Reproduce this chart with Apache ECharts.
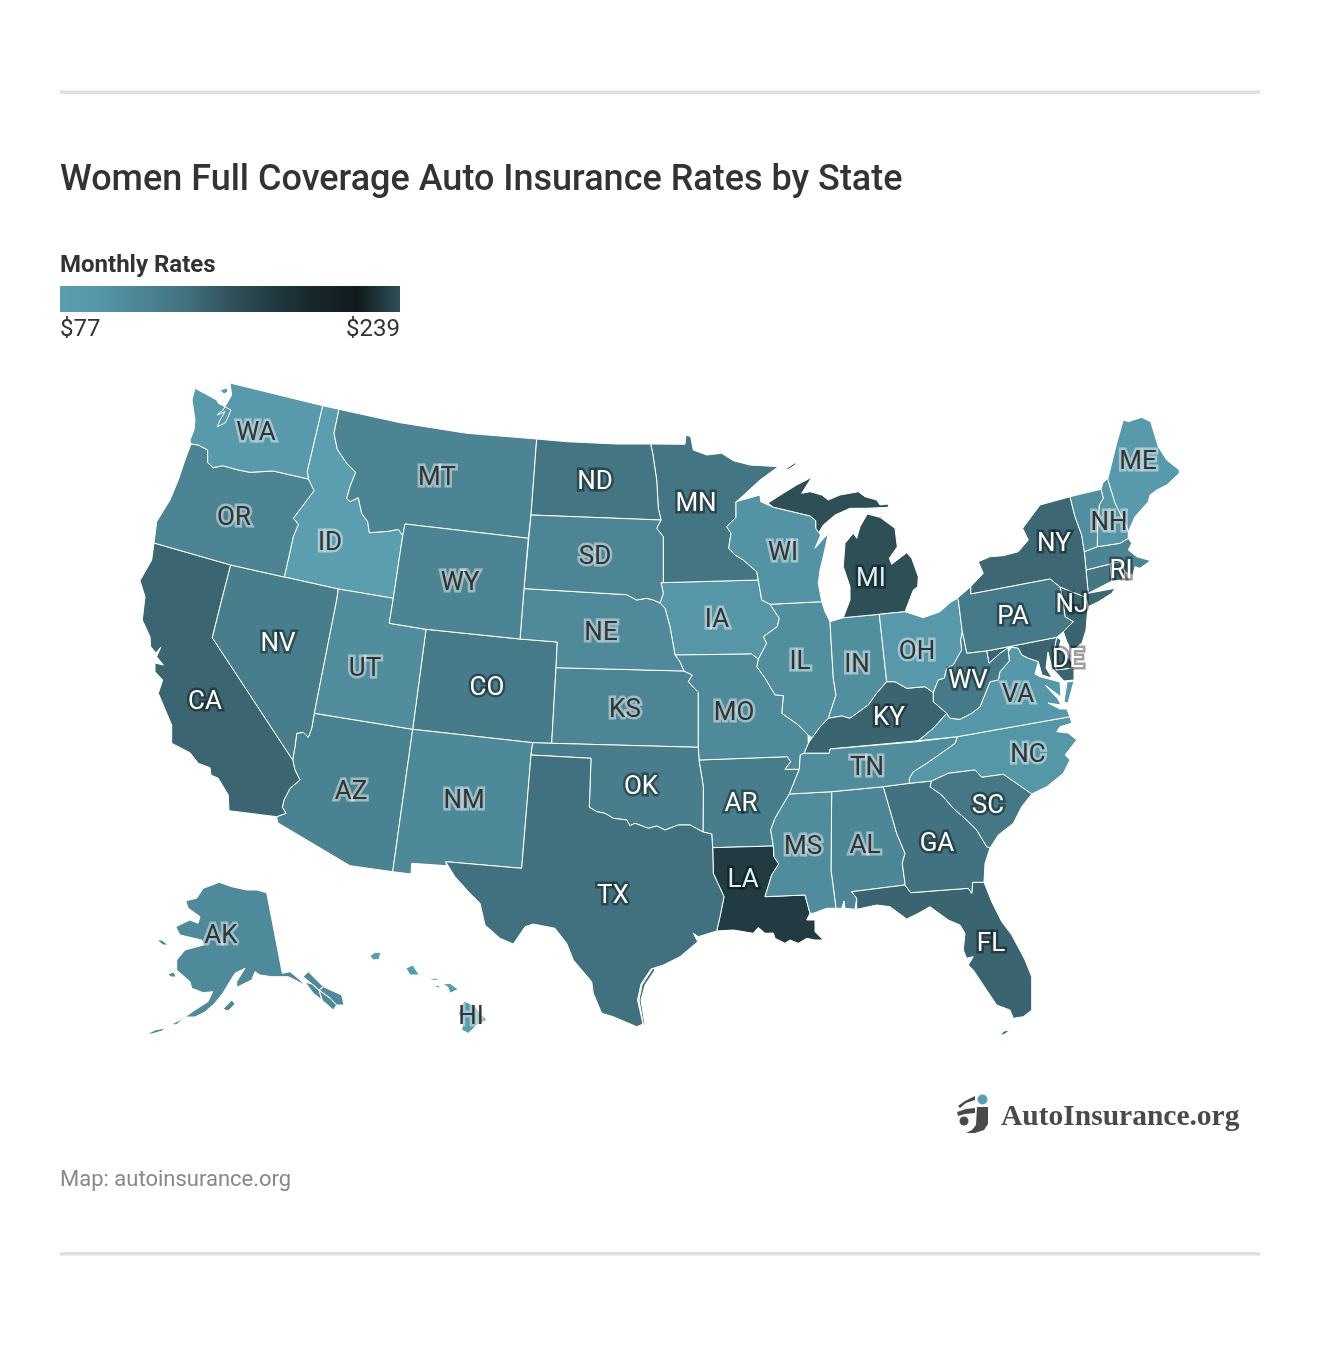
<!DOCTYPE html>
<html>
<head>
<meta charset="utf-8">
<title>Women Full Coverage Auto Insurance Rates by State</title>
<script src="https://cdn.jsdelivr.net/npm/echarts@6/dist/echarts.min.js"></script>
<style>
  html, body { margin: 0; padding: 0; background: #fff; }
  #chart-dev { width: 1320px; height: 1346px; }
</style>
</head>
<body>
<div id="chart-dev"></div>
<script>
var stateCodes = ['AK','AL','AR','AZ','CA','CO','CT','DE','FL','GA','HI','IA','ID','IL','IN','KS','KY','LA','MA','MD','ME','MI','MN','MO','MS','MT','NC','ND','NE','NH','NJ','NM','NV','NY','OH','OK','OR','PA','RI','SC','SD','TN','TX','UT','VA','VT','WA','WI','WV','WY'];
var stateRates = [110,115,125,120,145,127,132,146,146,136,82,95,78,106,106,116,146,178,117,146,86,239,133,110,108,117,96,133,111,95,146,112,125,144,88,125,117,128,142,131,116,108,137,107,92,105,85,100,128,118];
var noLabel = ['CT','MA','MD','VT'];
var rateMin = 77;
var rateMax = 239;
var rampColors = ['#5a9eb0','#5595a6','#4c8494','#41707d','#30535b','#223a41','#17272b','#101a1c','#2f4f57'];

// borders shared by two states
var arcs = {
    waId: '322.7,405.7 307.3,471 308.3,479',
    waOr: '308.3,479 273.3,471 250,472.3 238.3,470 222.7,465.7 213.3,467.7 207.7,462.7 207.7,450 198.3,445 191,444',
    idMt: '339,409.3 334,433.3 337.3,449.3 346.7,463.3 355.7,472.3 350,486.7 346.7,498.3 350,501.7 358.3,497.7 361.7,513.3 367.7,521.7 369.3,532.7 388.3,531.3 398.3,529.3 402.7,535.7',
    idOr: '284.3,577 293.3,536.7 298.3,524.3 293.3,518.3 303.3,505 314,490.7 308.3,479',
    azCa: '292.7,760 295,770 300,780 290,788.3 284,800 282.3,807.3 286,813.3 276.7,816.7',
    azNv: '314.3,713.3 311.7,728.3 308.3,737.3 303.3,732.3 296.7,733.3 295,746.7 292.7,760',
    ndMn: '650.7,444 652.7,453.3 656.7,480 658.3,508.3 661,520',
    sdMn: '661,520 656.7,528.3 663.3,536.7 663.3,582.3 661,582.7',
    iaSd: '661,582.7 663.3,593.3 660,603',
    sdNe: '660,603 653.3,600 646.7,598.3 636.7,600 626.7,594.7 524,588.6',
    iaNe: '660,603 665,608.3 670,626.7 675,655',
    neMo: '675,655 680,662 684,671',
    ksMo: '684,671 692.3,675 688.3,681.7 698.3,692.3 698.3,747.3',
    ilIa: '758.3,659.3 766.7,643.3 763.3,636.7 777.3,626.7 779.3,618.3 770,604.3',
    mnWi: '736,501.7 736,517.3 726.7,526.7 731,533.3 728.7,548.3 735,555 743.3,560 756.7,571.7 758.3,580',
    wiUp: '773.3,507.3 810,516 815.7,520.7 815.7,528.3',
    moIl: '758.3,659.3 756.7,666.7 765,678.3 775,695 783.3,695.7 781.7,713.3 798.3,725 808,735',
    ilIn: '830,621.7 833.3,678.3 836,695 828.3,718.3',
    okTx: '703,832 690,825 678.3,825 665,830 656.7,826 648.3,828.3 635,823.3 630,825.7 626.7,820 613.3,818.3 605,813.3 596.7,811.7 589.3,807.3',
    laTx: '711.7,834 712.7,847.7 713.3,873.3 724,896.7 720,916.7 716.7,931',
    tnNc: '909.3,783.3 909.3,778.3 913.3,771.7 926.7,763.3 943.3,751.7 955,743.3 957.3,736.7',
    arMs: '799.3,769.3 789.3,794 775,818.3 770.7,830 773.3,846',
    alGa: '883.3,786.7 896.7,833.3 905,853.3 902.3,863.3 905,883.3 905,885',
    gaSc: '931.7,781 930,786.7 941.7,795 953.3,808.3 966.7,820 976.7,830 986.7,846.7 990,848',
    scNc: '931.7,781 948.3,773.3 975,770 981.7,777.3 1003.3,774.3 1031.7,794',
    vtNh: '1106.7,479.3 1102.7,483.3 1101,489.3 1103.3,498.3 1099.3,505 1097.7,523.3 1097.3,546.7'
};

var outlines = {
    WA: ['230,383 @waId @waOr 190,440 194,430 195,420 192,400 195,388.3 216.7,400 218.3,403.3 231,410 226.7,420 225,423 217.3,426.7 220,420 225,411.7 217,415 223,410 226,405 231.7,395',
         '220,390 227,388 228,392 224,394'],
    OR: ['@waOr 185,460 178.3,480 170,500 156.7,521.7 154,543 230.7,565 @idOr'],
    ID: ['322.7,405.7 @idMt 393.3,598.3 338.3,589 @idOr ~waId'],
    MT: ['339,409.3 400,422.7 466.7,433.3 536.7,439 531,515 528.3,538.3 405,524 ~idMt'],
    WY: ['405,524 528.3,538.3 524,588.6 520,639 426,629.3 389.3,623.3 393.3,598.3 402.7,535.7'],
    CA: ['154,543 230.7,565 221.7,600 212.3,637.7 @azCa 229,810.7 228.3,795 218.3,778.3 211,775 210,767.7 198.3,763.3 190,752.7 171.7,743.3 171.7,725 158.3,693.3 162.7,680 155,671.7 155,663 163.3,665 156.7,656.7 160.7,647.3 156,653 150.7,646.7 150,636.7 142.3,620 145,596.7 140,580.7 151.7,560'],
    NV: ['230.7,565 284.3,577 338.3,589 336.7,600 @azNv 212.3,637.7 221.7,600'],
    UT: ['338.3,589 393.3,598.3 389.3,623.3 426,629.3 412.7,729.3 314.3,713.3 336.7,600'],
    AZ: ['@azNv @azCa 277.7,822.7 350,865.7 392.7,871.7 412.7,729.3'],
    CO: ['426,629.3 520,639 557.3,642 556,667.7 551.7,743.3 532.7,742.7 412.7,729.3'],
    NM: ['412.7,729.3 532.7,742.7 531,755 521.7,868.3 445.7,861.7 446.7,865.7 411.7,863.3 411,874 392.7,871.7'],
    ND: ['536.7,439 566.7,441.7 616.7,444 @ndMn 531,515'],
    SD: ['531,515 @sdMn @iaSd @sdNe'],
    NE: ['~sdNe @iaNe @neMo 556,667.7 557.3,642 520,639'],
    KS: ['556,667.7 @ksMo 551.7,743.3'],
    OK: ['532.7,742.7 551.7,743.3 698.3,747.3 699,760 703.3,786.7 @okTx 591,758.3 531,755'],
    TX: ['531,755 591,758.3 ~okTx @laTx 698.3,936.7 693.3,933.3 697.7,941.7 680,956.7 663.3,965 651,969 641,984 637.5,1000 643,1024 636.7,1026.7 613.3,1016.7 601.7,1013.3 593.3,993.3 591.7,981.7 573.3,960 566.7,943.3 555,928.3 533.3,924 525,926.7 513.3,944 500,938.3 485,925 480,903.3 470,893.3 455,876.7 445.7,861.7 521.7,868.3',
         '653,968 655,970 645,985 641,1000 645,1025 643.5,1025 639,1000 642,985'],
    MN: ['650.7,444 685,444.3 686,435 690.7,436.7 693.3,450 706.7,455 721.7,453.3 733.3,460.7 750,465 778.3,466.7 760,480 738.3,500 @mnWi ~sdMn ~ndMn'],
    IA: ['@iaSd @iaNe 751.7,654 @ilIa 761.7,600 758.3,580'],
    MO: ['675,655 751.7,654 @moIl 808.3,743.3 804,753.3 800.3,755 799.3,769.3 785,769.3 790.7,761.7 787.3,756.7 699,760 ~ksMo ~neMo'],
    AR: ['699,760 787.3,756.7 790.7,761.7 785,769.3 @arMs 712.7,847.7 711.7,834 703,832 703.3,786.7'],
    LA: ['712.7,847.7 773.3,846 774,856.7 778.7,864 771.7,875 765,896.7 805,895 810,913.3 806.7,920 815,920 815,931.7 823.3,940 815,940 806.7,938.3 798.3,943.3 790,940 785,943.3 775,938.3 773.3,933 765,933.3 758.3,927.3 753.3,933.3 733.3,930 716.7,931 720,916.7 724,896.7 713.3,873.3'],
    WI: ['736,501.7 760,495 760.7,501.7 @wiUp 820.7,535 815,548.3 828.3,533.3 824,553.3 820,570 818.3,583.3 821.7,601.7 770,604.3 761.7,600 758.3,580 ~mnWi'],
    IL: ['770,604.3 821.7,601.7 825,611.7 @ilIn 820,727 812,738 ~moIl @ilIa'],
    IN: ['830,621.7 843.3,617.7 879.3,614.3 886.7,681.7 876.7,693.3 868.3,705 850,718.3 841.7,716 828.3,718.3 836,695 833.3,678.3'],
    MI: ['768,503 783.3,493.3 796.7,485 811.7,477.3 801.7,493.3 810,491.7 821.7,495 828.3,500 840,495 858.3,491.7 865,496.7 876.7,500 880,505 888.3,504 888.3,507.3 866.7,508.3 850,508.3 835,515 823.3,525 818.3,533.3 ~wiUp',
         '867.3,514 880,517.3 895,528.3 897.3,546.7 889.3,558.3 891.7,564.3 906.7,552.7 911.7,558.3 918.3,576.7 917.7,586.7 913.3,590 905,611.7 879.3,614.3 843.3,617.7 850,600 850,586.7 843.3,566.7 845,543.3 853.3,533.3 856.7,538.3 860,526.7',
         '786.7,468.3 796.7,461.7 795,465 788,469.5'],
    OH: ['879.3,614.3 905,611.7 923.3,617.7 940,611.7 950,602.7 957.3,598.3 958.3,600 962.3,631.7 960.7,640 961.7,650 953.3,665 946.7,668.3 944.3,678.3 938.3,680 933.3,692.7 925,686.7 906.7,688.3 895,681.7 886.7,681.7'],
    KY: ['886.7,681.7 895,681.7 906.7,688.3 925,686.7 933.3,692.7 933.3,701.7 946.7,713.3 933.3,728.3 918.3,740.7 830,749 829.3,753.3 804,753.3 808.3,743.3 812,738 820,727 828.3,718.3 841.7,716 850,718.3 868.3,705 876.7,693.3'],
    TN: ['804,753.3 829.3,753.3 830,749 916.7,741.7 957.3,736.7 ~tnNc 883.3,786.7 831.7,791.7 789.3,794 799.3,769.3 800.3,755'],
    MS: ['789.3,794 831.7,791.7 831,870 836,908.3 826.7,908.3 813.3,913.3 810,913.3 805,895 765,896.7 771.7,875 778.7,864 774,856.7 773.3,846 770.7,830 775,818.3'],
    AL: ['831.7,791.7 @alGa 851.7,891.7 856.7,898.3 855,909.3 845,908.3 844,901 841.7,908.3 836,908.3 831,870'],
    GA: ['@alGa 910.7,892.7 968.3,888.3 971.7,893.3 972.7,882.3 984,882.3 985,863.3 990,848 ~gaSc 909.3,783.3'],
    FL: ['851.7,891.7 905,885 910.7,892.7 968.3,888.3 971.7,893.3 972.7,882.3 984,882.3 991.7,901.7 1001.7,921.7 1011.7,935 1025,960 1031.7,976.7 1031.7,1010 1023.3,1016.7 1013.3,1018.3 1010,1010 996.7,1005 983.3,985 973.3,970 968.3,965 973.3,956.7 966.7,958.3 963.3,950 965,933.3 960,925 948.3,920 930,906.7 918.3,913.3 906.7,919 890,906.7 876.7,905 856.7,909.3 856.7,898.3',
         '1010,1030 1005,1034 1000,1035.5 1004,1031'],
    SC: ['@scNc 1021.7,806.7 1013.3,823.3 998.3,835 990,848 ~gaSc'],
    NC: ['957.3,736.7 1070,716.7 1071.7,723.3 1060,726.7 1056.7,731.7 1068,733 1076.7,740 1065,755 1070,760 1063.3,773.3 1046.7,786.7 1031.7,794 1003.3,774.3 981.7,777.3 975,770 948.3,773.3 931.7,781 @tnNc'],
    VA: ['918.3,740.7 933.3,728.3 946.7,713.3 950,718.3 960,719.3 971.7,713.3 980,706.7 990,681.7 998.3,680 1000,671.7 1009.3,661 1008.3,651.7 1011.7,647.3 1018.3,648.3 1021.7,655 1028.3,658.3 1038.3,661.7 1035,674 1040,676.7 1060,682 1061,697 1045,685 1058,699 1061,705 1048,703 1060,709 1066.7,709 1070,716.7 957.3,736.7',
         '1074,681 1067,682 1064,702 1068,703'],
    WV: ['962.3,631.7 966.7,653.3 986.7,651 989,663.3 1000,653.3 1008.3,647.7 1008.3,651.7 1009.3,661 1000,671.7 998.3,680 990,681.7 980,706.7 971.7,713.3 960,719.3 950,718.3 946.7,713.3 933.3,701.7 933.3,692.7 938.3,680 944.3,678.3 946.7,668.3 953.3,665 961.7,650 960.7,640'],
    MD: ['986.7,651 1056.7,637.3 1054,650 1056,670 1074,668 1074,680 1064,681 1052,668 1048,652 1046,668 1052,678 1042,675 1038.3,661.7 1028.3,658.3 1021.7,655 1018.3,648.3 1011.7,647.3 1008.3,647.7 1000,653.3 989,663.3'],
    DE: ['1056.7,637.3 1061,640 1059,648 1074,664 1074,668 1056,670 1054,650'],
    PA: ['957.3,598.3 970.7,586.7 970.7,594 1050,579 1060,587 1063,600 1065,616.7 1073.3,621.7 1063.3,631.7 1056.7,637.3 986.7,651 966.7,653.3 962.3,631.7 958.3,600'],
    NJ: ['1060,587 1085,597 1088,606 1086,630 1082,643 1072,651 1067,642 1063.3,631.7 1073.3,621.7 1065,616.7 1063,600'],
    NY: ['970.7,594 970.7,586.7 983.3,573.3 978.3,561.7 990,556.7 1003.3,555.7 1018.3,551.7 1028.3,540 1022.7,528.3 1040,505 1070,496.7 1075,516.7 1081.7,535 1084.3,551.7 1086,570 1088.3,593.3 1115,588.3 1111.7,593.3 1098.3,601.7 1088.3,606.7 1086.7,600 1085,597 1060,587 1050,579'],
    VT: ['1070,496.7 1101,489.3 1103.3,498.3 1099.3,505 1097.7,523.3 1097.3,546.7 1084.3,551.7 1081.7,535 1075,516.7'],
    NH: ['@vtNh 1120,543.3 1128.3,538.3 1128.3,531.7 1125,523.3 1115,503.3 1107.7,479.3'],
    ME: ['1107.7,479.3 1111.7,463.3 1116.7,443.3 1123.3,420 1128.3,421.7 1141.7,417.3 1150.7,421.7 1158.3,446.7 1166.7,460 1179.3,470 1179.3,473.3 1166.7,485 1156.7,490 1150,495 1148.3,501.7 1135,516.7 1128.3,531.7 1125,523.3 1115,503.3'],
    MA: ['1084.3,551.7 1097.3,546.7 1120,543.3 1128.3,538.3 1131.7,543.3 1128.3,550 1136.7,556.7 1150.7,560.7 1140,568.3 1135,566.7 1133,575 1125,572 1120,562 1110,564 1086,570'],
    RI: ['1110,564 1120,562 1125,572 1122,580 1112,581'],
    CT: ['1086,570 1110,564 1112,581 1088.3,593.3'],
    AK: ['266.7,892.7 282.3,973.3 290,971.7 300,980 305,985 288.3,976.7 271.7,976.7 260,975 255,971.7 251.7,980 236.7,987.3 236.7,981.7 245,968.3 235,973.3 226.7,986.7 223,993 215,1003 205,1012 195,1017 185,1017 195,1010 208,1001.7 212.7,991.7 203.3,992.7 191.7,988.3 190,981.7 176.7,970 176.7,960 185,950 203.3,945 201.7,940 180,935 175.7,926.7 190,920 198,923.3 200,916.7 188,908 185.7,900.7 196.7,898.3 203.3,888.3 219.3,882.3 231.7,886.7 246.7,890 256.7,890',
         '303.3,976.7 308.3,971.7 323.3,986.7 319,990 312,984',
         '305,982 312,984 319,990 322,1000 313.3,993.3',
         '319,990 323.3,986.7 341.7,995 344,1005 336.7,1005 330,998',
         '322,1000 319,990 330,998 336.7,1005 333.3,1010',
         '223,1009 232,1000 235,1004 228,1011',
         '171.7,1024 178,1021 184,1018 176,1025',
         '147,1034 155,1030 165,1028 162,1031 152,1034',
         '157,940 162,940 168,945 163,945',
         '168,974 174,972 176,977 171,977'],
    HI: ['370,956 375,952.3 380.7,952.3 379.3,959.3 373.3,960',
         '406,968.3 412.7,965 419.3,975 410,975',
         '428.3,978.3 436.7,978.3 437.7,980.7 432,980',
         '434,986.7 439.3,985 439.3,988.3',
         '442.7,984 450,983.3 458.3,989.3 450,993.3 448,987.3',
         '458.3,1013.3 464,1001 475,1006 480,1013 486.7,1020 476,1026 468.3,1033.3 461.7,1030 463,1022']
};

var labelAt = {
    WA:[256,430], OR:[234,515], ID:[330,540], MT:[437,475], WY:[460,580], ND:[595,479], SD:[595,554], NE:[601,630],
    MN:[696,501], WI:[783,550], IA:[717,617], IL:[800,659], IN:[857,662], OH:[917,649], MI:[871,576], NV:[278,641],
    UT:[365,666], CO:[487,685], CA:[205,699], AZ:[351,789], NM:[464,798], KS:[625,707], MO:[734,710], OK:[641,784],
    TX:[613,893], AR:[741,801], LA:[743,877], MS:[803,844], AL:[865,843], TN:[867,765], KY:[889,715], GA:[937,841],
    FL:[991,941], SC:[988,803], NC:[1028,752], VA:[1018,692], WV:[968,678], PA:[1013,614], NY:[1054,541], NJ:[1072,602],
    DE:[1068,657], ME:[1138,459], NH:[1109,520], RI:[1121,568], AK:[221,933], HI:[471,1014],
    CT:[1098,578], MA:[1110,555], MD:[1030,650], VT:[1088,520]
};

function pts(str) {
    return str.split(' ').map(function (p) {
        return p.split(',').map(Number);
    });
}
function ring(str) {
    var out = [];
    str.split(' ').forEach(function (tok) {
        if (tok[0] === '@') {
            out = out.concat(pts(arcs[tok.slice(1)]));
        } else if (tok[0] === '~') {
            out = out.concat(pts(arcs[tok.slice(1)]).reverse());
        } else {
            out.push(tok.split(',').map(Number));
        }
    });
    return out;
}

var minX = Infinity, minY = Infinity, maxX = -Infinity, maxY = -Infinity;
var features = stateCodes.map(function (code) {
    var polys = outlines[code].map(function (s) {
        var r = ring(s);
        r.push(r[0]);
        r.forEach(function (p) {
            minX = Math.min(minX, p[0]); maxX = Math.max(maxX, p[0]);
            minY = Math.min(minY, p[1]); maxY = Math.max(maxY, p[1]);
        });
        // geo treats y as latitude, so page y goes in negated
        return [r.map(function (p) { return [p[0], -p[1]]; })];
    });
    return {
        type: 'Feature',
        properties: { name: code, cp: [labelAt[code][0], -labelAt[code][1]] },
        geometry: { type: 'MultiPolygon', coordinates: polys }
    };
});
echarts.registerMap('usa', { type: 'FeatureCollection', features: features });

var mapData = stateCodes.map(function (code, i) {
    var v = stateRates[i];
    var dark = v >= 125;
    return {
        name: code,
        value: v,
        label: {
            show: noLabel.indexOf(code) < 0,
            color: v > 170 ? '#d8f3f8' : (dark ? '#ffffff' : '#333333'),
            textBorderColor: dark ? 'rgba(0,0,0,0.38)' : 'rgba(255,255,255,0.45)'
        }
    };
});

var rampStops = rampColors.map(function (c, i) {
    return { offset: i / (rampColors.length - 1), color: c };
});

var dom = document.getElementById('chart-dev');
var myChart = echarts.init(dom, null, { renderer: 'canvas' });

var option = {
    animation: false,
    backgroundColor: '#fff',
    title: {
        text: 'Women Full Coverage Auto Insurance Rates by State',
        left: 60,
        top: 163,
        padding: 0,
        textStyle: { fontFamily: 'Roboto', fontSize: 36, fontWeight: 500, color: '#333333' }
    },
    visualMap: {
        type: 'continuous',
        min: rateMin,
        max: rateMax,
        show: false,
        inRange: { color: rampColors }
    },
    series: [{
        type: 'map',
        map: 'usa',
        aspectScale: 1,
        left: minX,
        top: minY,
        width: maxX - minX,
        height: maxY - minY,
        selectedMode: false,
        showLegendSymbol: false,
        itemStyle: { borderColor: '#ffffff', borderWidth: 1, areaColor: '#5a9eb0' },
        emphasis: { disabled: true },
        select: { disabled: true },
        label: {
            show: true,
            formatter: '{b}',
            fontFamily: 'Roboto',
            fontSize: 26,
            offset: [0, 3],
            textBorderWidth: 5
        },
        data: mapData
    }],
    graphic: [
        { type: 'rect', silent: true, shape: { x: 60, y: 90.5, width: 1200, height: 3.5 }, style: { fill: '#e0e0e0' } },
        { type: 'rect', silent: true, shape: { x: 60, y: 1252, width: 1200, height: 3.5 }, style: { fill: '#e0e0e0' } },
        { type: 'text', silent: true, x: 60, y: 254, style: { text: 'Monthly Rates', font: '700 24px Roboto', fill: '#333333' } },
        { type: 'rect', silent: true, shape: { x: 60, y: 286, width: 340, height: 26 }, style: { fill: new echarts.graphic.LinearGradient(0, 0, 1, 0, rampStops) } },
        { type: 'text', silent: true, x: 60, y: 318, style: { text: '$' + rateMin, font: '400 24px Roboto', fill: '#333333' } },
        { type: 'text', silent: true, x: 400, y: 318, style: { text: '$' + rateMax, font: '400 24px Roboto', fill: '#333333', align: 'right' } },
        { type: 'text', silent: true, x: 60, y: 1169, style: { text: 'Map: autoinsurance.org', font: '400 22px Roboto', fill: '#888888' } },
        // logo
        { type: 'text', silent: true, x: 1001, y: 1102, style: { text: 'AutoInsurance.org', font: '700 29.5px "Liberation Serif"', fill: '#4a4a4a' } },
        { type: 'circle', silent: true, shape: { cx: 982.5, cy: 1099.5, r: 5 }, style: { fill: '#5a9fb0' } },
        { type: 'polygon', silent: true, shape: { points: [[958,1106],[965,1101],[975,1096],[975,1100],[966,1103],[960,1108]] }, style: { fill: '#4a4a4a' } },
        { type: 'polygon', silent: true, shape: { points: [[957,1112],[966,1109],[975,1108],[975,1113],[965,1114],[958,1116]] }, style: { fill: '#4a4a4a' } },
        { type: 'circle', silent: true, shape: { cx: 964, cy: 1121, r: 4.5 }, style: { fill: '#4a4a4a' } },
        { type: 'polygon', silent: true, shape: { points: [[977,1107],[988,1107],[988,1124],[984,1130],[975,1133],[966,1133],[972,1130],[976,1125]] }, style: { fill: '#4a4a4a' } }
    ]
};

if (option && typeof option === 'object') {
    myChart.setOption(option);
}

window.addEventListener('resize', myChart.resize);
</script>
</body>
</html>
